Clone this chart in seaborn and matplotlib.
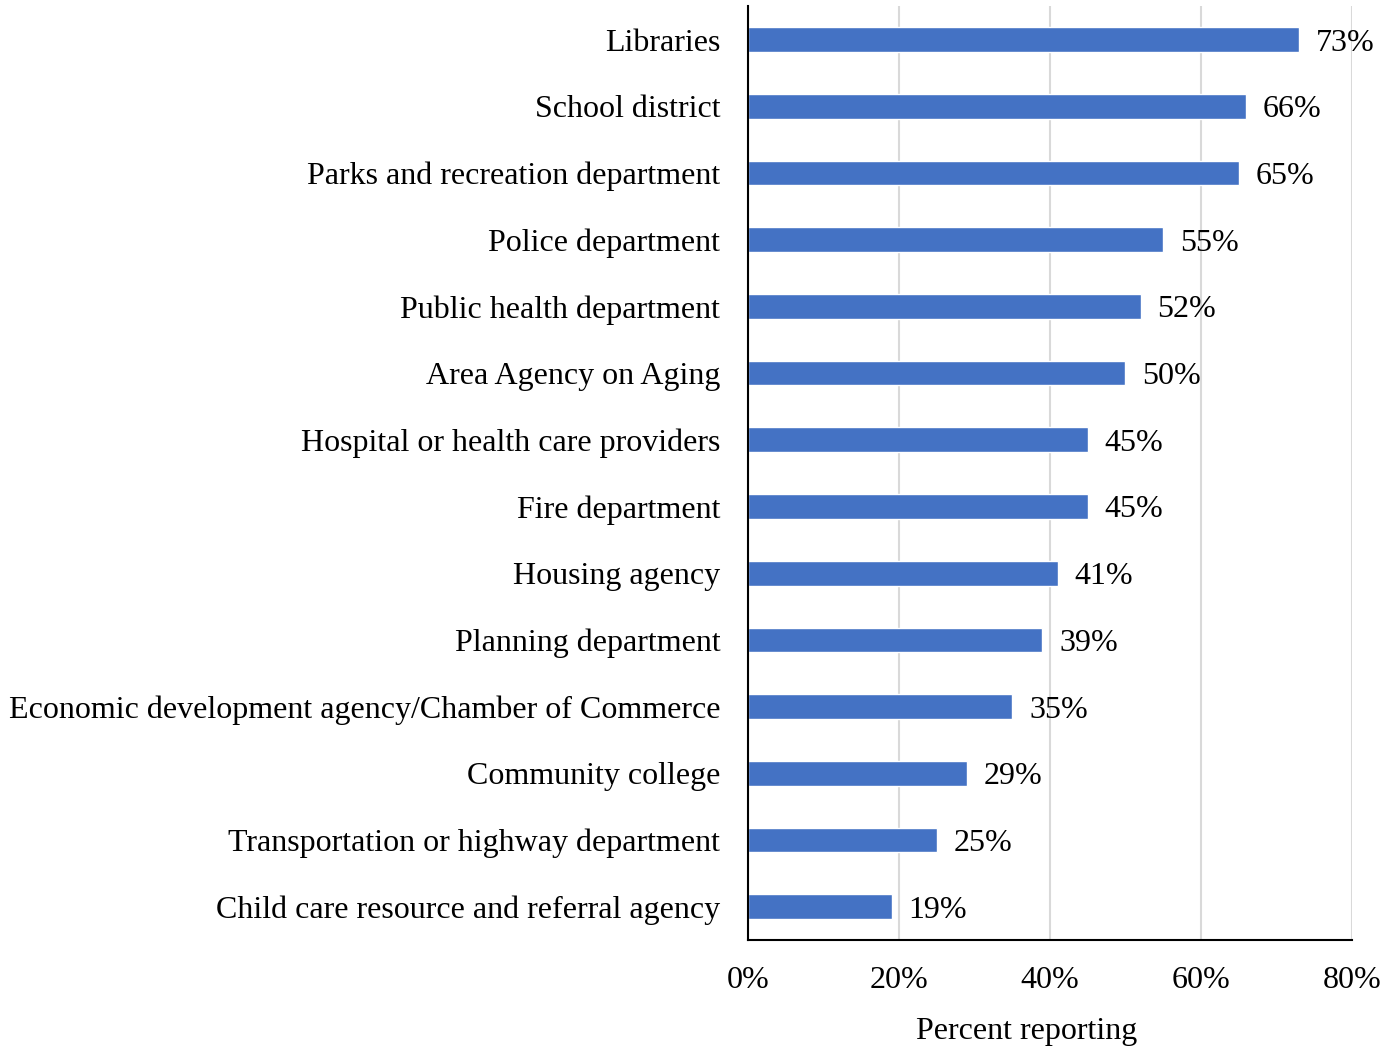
import matplotlib
matplotlib.use("Agg")
import matplotlib.pyplot as plt
import seaborn as sns
import pandas as pd

categories = [
    "Libraries",
    "School district",
    "Parks and recreation department",
    "Police department",
    "Public health department",
    "Area Agency on Aging",
    "Hospital or health care providers",
    "Fire department",
    "Housing agency",
    "Planning department",
    "Economic development agency/Chamber of Commerce",
    "Community college",
    "Transportation or highway department",
    "Child care resource and referral agency",
]
values = [73, 66, 65, 55, 52, 50, 45, 45, 41, 39, 35, 29, 25, 19]
xticks = [0, 20, 40, 60, 80]
xtick_labels = ["0%", "20%", "40%", "60%", "80%"]

sns.set_theme(style="white")
plt.rcParams["font.family"] = ["Liberation Serif", "DejaVu Serif"]

df = pd.DataFrame({"category": categories, "value": values})

FS = 23
fig = plt.figure(figsize=(13.88, 10.5), dpi=100)
ax = fig.add_axes([0.539, 0.1048, 0.974 - 0.539, 0.994 - 0.1048])
sns.barplot(data=df, x="value", y="category", color="#4472C4", saturation=1,
            width=0.37, ax=ax, zorder=3)

ax.set_xlim(0, 80)
ax.set_ylim(13.5, -0.5)
ax.set_xticks(xticks)
ax.set_xticklabels(xtick_labels, fontsize=FS, color="black")
ax.tick_params(axis="x", length=0, pad=19)
ax.tick_params(axis="y", length=0, pad=20, labelsize=FS, labelcolor="black")
ax.set_ylabel("")
ax.set_xlabel("Percent reporting", fontsize=FS, color="black")
ax.xaxis.set_label_coords(0.462, -0.083)
ax.grid(axis="x", color="#D9D9D9", linewidth=1.5, zorder=0)
ax.grid(axis="y", visible=False)
for s in ["top", "right"]:
    ax.spines[s].set_visible(False)
for s in ["left", "bottom"]:
    ax.spines[s].set_color("black")
    ax.spines[s].set_linewidth(1.5)
    ax.spines[s].set_zorder(4)

for container in ax.containers:
    texts = ax.bar_label(container, labels=[f"{v}%" for v in values], padding=12,
                         fontsize=FS, color="black")
    for t in texts:
        t.set_va("center_baseline")

fig.savefig("out.png", dpi=100, facecolor="white")
